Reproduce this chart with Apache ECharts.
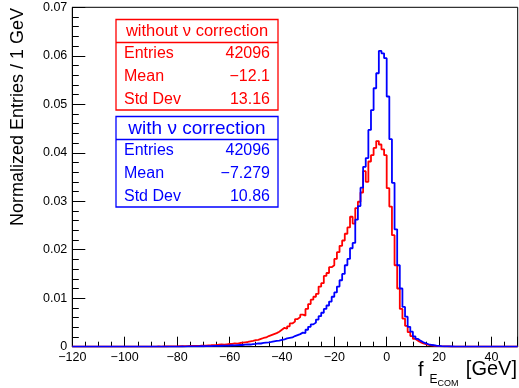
<!DOCTYPE html>
<html>
<head>
<meta charset="utf-8">
<script src="https://cdn.jsdelivr.net/npm/echarts@6/dist/echarts.min.js"></script>
<style>
  html, body { margin: 0; padding: 0; background: #fff; }
  #chart { width: 519px; height: 388px; }
</style>
</head>
<body>
<div id="chart"></div>
<script>
// Histogram binning: 1 GeV bins from -120 to 50 GeV
const binLow = -120;
const binWidth = 1;
const xMin = -120;
const xMax = 50;

// Normalized entries per bin, without neutrino correction (bins -120 .. 49)
const withoutNuCorrection = [
  0, 0, 0, 0, 0, 0, 0, 0, 0, 0,
  0, 0, 0, 0, 0, 0, 0, 0, 0, 0,
  0, 0, 0, 0, 0,
  0.00001, 0.00002, 0.00001, 0.00002, 0.00003,
  0.00002, 0.00003, 0.00004, 0.00003, 0.00005, 0.00004, 0.00006, 0.00007, 0.00006, 0.00008,
  0.0001, 0.00009, 0.00012, 0.00011, 0.00014, 0.00016, 0.00015, 0.00019, 0.0002, 0.00024,
  0.00023, 0.00028, 0.0003, 0.00034, 0.00033, 0.0004, 0.00046, 0.00043, 0.0005, 0.00056,
  0.0006, 0.00068, 0.00064, 0.00076, 0.00083, 0.0009, 0.00097, 0.0011, 0.0012, 0.00135,
  0.0014, 0.0016, 0.0018, 0.0019, 0.0022, 0.0024, 0.0026, 0.0028, 0.0031, 0.0035,
  0.0039, 0.0037, 0.0042, 0.0048, 0.0052, 0.0057, 0.0061, 0.0066, 0.0064, 0.0078,
  0.0088, 0.0097, 0.0103, 0.0109, 0.0124, 0.0131, 0.0146, 0.0152, 0.0164, 0.0168,
  0.0181, 0.0195, 0.0208, 0.0219, 0.0233, 0.0246, 0.0268, 0.0254, 0.0286, 0.0299,
  0.0318, 0.0362, 0.0340, 0.0382, 0.0395, 0.0410, 0.0424, 0.0417, 0.0407, 0.0395,
  0.0327, 0.0289, 0.0230, 0.0168, 0.0120, 0.0078, 0.0058, 0.0043, 0.0030, 0.0022,
  0.0016, 0.0012, 0.0009, 0.0007, 0.0005, 0.0004, 0.0003, 0.0002, 0.00015, 0.0001,
  0.00008, 0.00006, 0.00005, 0.00004, 0.00003, 0.00003, 0.00002, 0.00002, 0.00001, 0.00001,
  0, 0, 0, 0, 0, 0, 0, 0, 0, 0,
  0, 0, 0, 0, 0, 0, 0, 0, 0, 0
];

// Normalized entries per bin, with neutrino correction (bins -120 .. 49)
const withNuCorrection = [
  0, 0, 0, 0, 0, 0, 0, 0, 0, 0,
  0, 0, 0, 0, 0, 0, 0, 0, 0, 0,
  0, 0, 0, 0, 0, 0, 0, 0, 0, 0,
  0, 0, 0, 0, 0,
  0.00001, 0.00001, 0.00002, 0.00001, 0.00002,
  0.00003, 0.00004, 0.00003, 0.00005, 0.00006, 0.00005, 0.00007, 0.00008, 0.0001, 0.00009,
  0.00011, 0.00013, 0.00012, 0.00015, 0.00017, 0.00016, 0.0002, 0.00022, 0.00021, 0.00025,
  0.0003, 0.00029, 0.00034, 0.00037, 0.00035, 0.00042, 0.00047, 0.00045, 0.00055, 0.0006,
  0.00068, 0.00066, 0.00078, 0.00085, 0.0009, 0.00098, 0.0011, 0.0012, 0.00125, 0.0014,
  0.0015, 0.0017, 0.0018, 0.0019, 0.0022, 0.0024, 0.0026, 0.0029, 0.0028, 0.0035,
  0.0041, 0.0046, 0.0050, 0.0056, 0.0063, 0.0070, 0.0078, 0.0085, 0.0093, 0.0103,
  0.0112, 0.0124, 0.0137, 0.0150, 0.0168, 0.0181, 0.0203, 0.0214, 0.0262, 0.0290,
  0.0328, 0.0371, 0.0389, 0.0447, 0.0488, 0.0533, 0.0564, 0.0610, 0.0605, 0.0595,
  0.0516, 0.0428, 0.0338, 0.0242, 0.0168, 0.0120, 0.0082, 0.0062, 0.0041, 0.0031,
  0.0021, 0.0016, 0.0012, 0.0009, 0.0007, 0.0005, 0.0004, 0.0003, 0.0002, 0.00015,
  0.0001, 0.00008, 0.00006, 0.00005, 0.00004, 0.00003, 0.00003, 0.00002, 0.00002, 0.00001,
  0.00001, 0.00001, 0, 0.00001, 0, 0, 0, 0, 0, 0,
  0, 0, 0, 0, 0, 0, 0, 0, 0, 0
];

// Axis ticks
const xTickValues = [-120, -100, -80, -60, -40, -20, 0, 20, 40];
const yTickLabels = ['0', '0.01', '0.02', '0.03', '0.04', '0.05', '0.06', '0.07'];

// Statistics boxes
const statNames = ['Entries', 'Mean', 'Std Dev'];
const statsWithout = ['42096', '\u221212.1', '13.16'];
const statsWith = ['42096', '\u22127.279', '10.86'];
const titleWithout = 'without \u03bd correction';
const titleWith = 'with \u03bd correction';

const RED = '#ff0000';
const BLUE = '#0000ff';
const FONT = '"Liberation Sans", Arial, Helvetica, sans-serif';

// Step outline: each bin's left edge carries its content, closed at xMax
function histPoints(values) {
  const pts = values.map((v, i) => [binLow + i * binWidth, v]);
  pts.push([binLow + values.length * binWidth, values[values.length - 1]]);
  return pts;
}

function statBox(top, color, title, titleSize, values) {
  const left = 116, width = 162, height = 90.5, headerH = 23;
  const rowY = [top + 34, top + 57, top + 80];
  const children = [
    { type: 'rect', shape: { x: left, y: top, width: width, height: height },
      style: { fill: '#fff', stroke: color, lineWidth: 1.3 } },
    { type: 'line', shape: { x1: left, y1: top + headerH, x2: left + width, y2: top + headerH },
      style: { stroke: color, lineWidth: 1.3 } },
    { type: 'text', x: left + width / 2, y: top + headerH / 2 + 0.5,
      style: { text: title, fill: color, font: titleSize + 'px ' + FONT, align: 'center', verticalAlign: 'middle' } }
  ];
  statNames.forEach((name, i) => {
    children.push({ type: 'text', x: left + 8, y: rowY[i],
      style: { text: name, fill: color, font: '16px ' + FONT, align: 'left', verticalAlign: 'middle' } });
    children.push({ type: 'text', x: left + width - 8, y: rowY[i],
      style: { text: values[i], fill: color, font: '16px ' + FONT, align: 'right', verticalAlign: 'middle' } });
  });
  return { type: 'group', children: children };
}

const chart = echarts.init(document.getElementById('chart'), null, { renderer: 'canvas' });

chart.setOption({
  animation: false,
  backgroundColor: '#fff',
  grid: {
    left: 72.3, top: 7.3, width: 445.4, height: 339.4,
    show: true, borderColor: '#000', borderWidth: 1, backgroundColor: 'transparent'
  },
  xAxis: {
    type: 'value',
    min: xMin, max: xMax, interval: 20,
    axisLine: { show: true, onZero: false, lineStyle: { color: '#000', width: 1 } },
    axisTick: { show: true, inside: true, length: 10, lineStyle: { color: '#000', width: 1 } },
    minorTick: { show: true, splitNumber: 4, length: 5, lineStyle: { color: '#000', width: 1 } },
    splitLine: { show: false },
    axisLabel: {
      color: '#000', fontSize: 12.5, fontFamily: FONT, margin: 4,
      showMaxLabel: false,
      formatter: v => (xTickValues.indexOf(v) >= 0 ? String(v).replace('-', '\u2212') : '')
    }
  },
  yAxis: {
    type: 'value',
    min: 0, max: 0.07, interval: 0.01,
    axisLine: { show: true, onZero: false, lineStyle: { color: '#000', width: 1 } },
    axisTick: { show: true, inside: true, length: 13, lineStyle: { color: '#000', width: 1 } },
    minorTick: { show: true, splitNumber: 5, length: 6.5, lineStyle: { color: '#000', width: 1 } },
    splitLine: { show: false },
    axisLabel: {
      color: '#000', fontSize: 12.5, fontFamily: FONT, margin: 5,
      formatter: v => yTickLabels[Math.round(v * 100)]
    }
  },
  series: [
    {
      name: titleWithout, type: 'line', step: 'end', symbol: 'none', clip: true,
      data: histPoints(withoutNuCorrection),
      lineStyle: { color: RED, width: 1.8 }, z: 2
    },
    {
      name: titleWith, type: 'line', step: 'end', symbol: 'none', clip: true,
      data: histPoints(withNuCorrection),
      lineStyle: { color: BLUE, width: 1.8 }, z: 3
    }
  ],
  graphic: [
    statBox(19.5, RED, titleWithout, 16.5, statsWithout),
    statBox(116.5, BLUE, titleWith, 19, statsWith),
    // y-axis title, right-aligned to the top of the axis
    { type: 'text', x: 18.5, y: 8, rotation: Math.PI / 2,
      style: { text: 'Normalized Entries / 1 GeV', fill: '#000', font: '18px ' + FONT,
               align: 'right', verticalAlign: 'middle' } },
    // x-axis title f_{E_{COM}} [GeV]
    { type: 'text', x: 418, y: 370,
      style: { text: 'f', fill: '#000', font: '20px ' + FONT, align: 'left', verticalAlign: 'middle' } },
    { type: 'text', x: 429.5, y: 379.5,
      style: { text: 'E', fill: '#000', font: '12px ' + FONT, align: 'left', verticalAlign: 'middle' } },
    { type: 'text', x: 437.5, y: 383.5,
      style: { text: 'COM', fill: '#000', font: '9px ' + FONT, align: 'left', verticalAlign: 'middle' } },
    { type: 'text', x: 517, y: 369,
      style: { text: '[GeV]', fill: '#000', font: '20px ' + FONT, align: 'right', verticalAlign: 'middle' } }
  ]
});
</script>
</body>
</html>
